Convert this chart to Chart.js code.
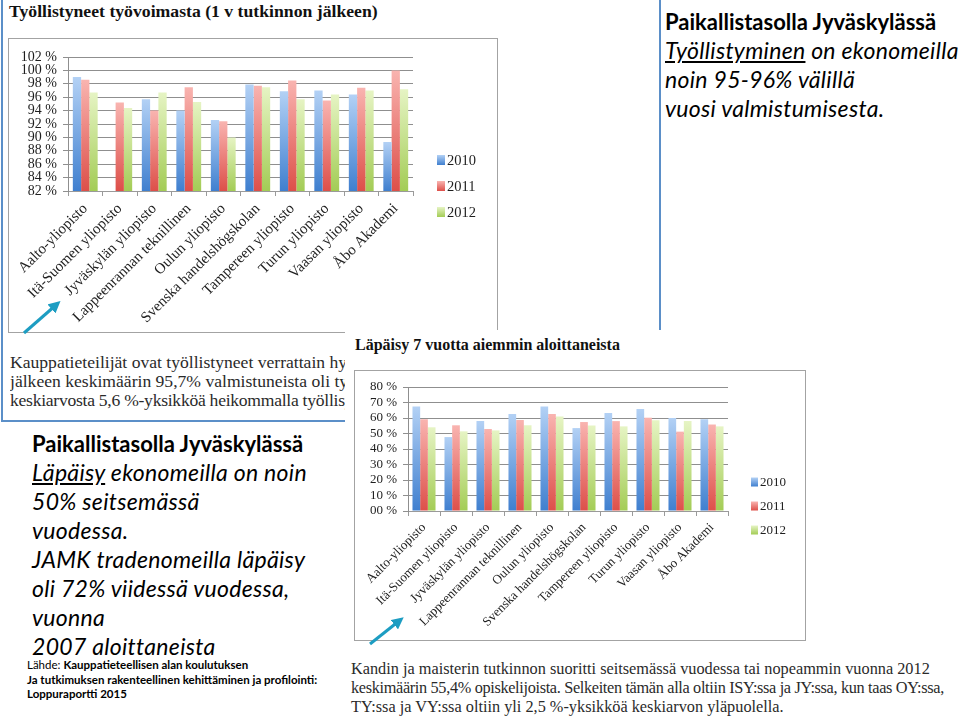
<!DOCTYPE html>
<html lang="fi">
<head>
<meta charset="UTF-8">
<title>Kauppatieteilijät – työllistyminen ja läpäisy</title>
<style>
  body { margin: 0; width: 960px; height: 718px; position: relative; overflow: hidden; background: #fff; font-family: Lato, sans-serif; color: #000; }
  .abs { position: absolute; }
  #frame1 { left: 1px; top: -10px; width: 660px; height: 432px; border: 2px solid #5b8fc8; box-sizing: border-box; }
  .ttl { font-family: "Liberation Serif", serif; font-weight: bold; font-size: 16px; line-height: 16px; color: #111; white-space: nowrap; }
  .box { border: 1px solid #a3a3a3; box-sizing: border-box; }
  .serif { font-family: "Liberation Serif", serif; font-size: 16.3px; line-height: 19px; color: #2a2a2a; white-space: nowrap; }
  #txt1 { left: 10px; top: 353px; width: 335px; overflow: hidden; font-size: 17.6px; }
  #panel2 { left: 345px; top: 330px; width: 615px; height: 388px; background: #fff; }
  .note { font-size: 23px; line-height: 29px; white-space: nowrap; }
  .note .h { font-weight: bold; font-size: 22px; }
  .note .i { font-style: italic; letter-spacing: 0.3px; }
  #src { left: 27px; top: 658px; font-size: 11.5px; line-height: 14.5px; white-space: nowrap; }
  #arrows { left: 0; top: 0; pointer-events: none; }
</style>
</head>
<body>
  <div id="frame1" class="abs"></div>
  <div class="abs ttl" style="left:9px; top:3px; font-size:17.7px;">Työllistyneet työvoimasta (1 v tutkinnon jälkeen)</div>
  <div class="abs box" style="left:8px; top:38px; width:490px; height:295px;"></div>
  <canvas id="tyoChart" class="abs" width="490" height="295" style="left:8px; top:38px;"></canvas>
  <div id="txt1" class="abs serif">
    <div>Kauppatieteilijät ovat työllistyneet verrattain hyv</div>
    <div>jälkeen keskimäärin 95,7% valmistuneista oli työl</div>
    <div style="letter-spacing:-0.27px;">keskiarvosta 5,6 %-yksikköä heikommalla työllisy</div>
  </div>

  <div id="noteTop" class="abs note" style="left:665px; top:7px;">
    <div class="h">Paikallistasolla Jyväskylässä</div>
    <div class="i"><u>Työllistyminen</u> on ekonomeilla</div>
    <div class="i">noin 95-96% välillä</div>
    <div class="i">vuosi valmistumisesta.</div>
  </div>

  <div id="noteLeft" class="abs note" style="left:32px; top:429px;">
    <div class="h">Paikallistasolla Jyväskylässä</div>
    <div class="i"><u>Läpäisy</u> ekonomeilla on noin</div>
    <div class="i">50% seitsemässä</div>
    <div class="i">vuodessa.</div>
    <div class="i">JAMK tradenomeilla läpäisy</div>
    <div class="i">oli 72% viidessä vuodessa,</div>
    <div class="i">vuonna</div>
    <div class="i">2007 aloittaneista</div>
  </div>
  <div id="src" class="abs">Lähde: <b>Kauppatieteellisen alan koulutuksen</b><br><b>Ja tutkimuksen rakenteellinen kehittäminen ja profilointi:</b><br><b>Loppuraportti 2015</b></div>

  <div id="panel2" class="abs"></div>
  <div class="abs ttl" style="left:355px; top:337px;">Läpäisy 7 vuotta aiemmin aloittaneista</div>
  <div class="abs box" style="left:354px; top:370px; width:452px; height:271px;"></div>
  <canvas id="lapChart" class="abs" width="452" height="271" style="left:354px; top:370px;"></canvas>
  <div class="abs serif" style="left:351px; top:659px;">
    <div>Kandin ja maisterin tutkinnon suoritti seitsemässä vuodessa tai nopeammin vuonna 2012</div>
    <div style="letter-spacing:-0.34px;">keskimäärin 55,4% opiskelijoista. Selkeiten tämän alla oltiin ISY:ssa ja JY:ssa, kun taas OY:ssa,</div>
    <div>TY:ssa ja VY:ssa oltiin yli 2,5 %-yksikköä keskiarvon yläpuolella.</div>
  </div>

  <svg id="arrows" class="abs" width="960" height="718">
    <defs>
      <marker id="head" markerWidth="4" markerHeight="4" refX="2" refY="2" orient="auto">
        <path d="M0,0 L4,2 L0,4 z" fill="#1d9dc2"/>
      </marker>
    </defs>
    <line x1="24" y1="333" x2="56" y2="305" stroke="#1d9dc2" stroke-width="3" marker-end="url(#head)"/>
    <line x1="370" y1="644" x2="399" y2="621" stroke="#1d9dc2" stroke-width="3" marker-end="url(#head)"/>
  </svg>

<script src="https://cdn.jsdelivr.net/npm/chart.js"></script>
<script>
  const yliopistot = ['Aalto-yliopisto', 'Itä-Suomen yliopisto', 'Jyväskylän yliopisto', 'Lappeenrannan teknillinen',
    'Oulun yliopisto', 'Svenska handelshögskolan', 'Tampereen yliopisto', 'Turun yliopisto', 'Vaasan yliopisto', 'Åbo Akademi'];
  const vuodet = ['2010', '2011', '2012'];

  // Työllistyneet työvoimasta (%)
  const tyo2010 = [99.0, null, 95.7, 94.0, 92.6, 97.9, 96.9, 97.0, 96.4, 89.3];
  const tyo2011 = [98.6, 95.2, 94.0, 97.5, 92.4, 97.7, 98.5, 95.5, 97.4, 100.0];
  const tyo2012 = [96.7, 94.4, 96.7, 95.3, 90.0, 97.5, 95.7, 96.4, 97.0, 97.2];
  const tyoTicks = ['82 %', '84 %', '86 %', '88 %', '90 %', '92 %', '94 %', '96 %', '98 %', '100 %', '102 %'];

  // Läpäisy 7 vuotta aiemmin aloittaneista (%)
  const lap2010 = [67.5, 47.7, 58.1, 62.6, 67.5, 53.5, 63.2, 65.8, 60.0, 59.2];
  const lap2011 = [59.2, 55.3, 52.9, 58.7, 62.6, 57.4, 58.0, 60.2, 51.2, 55.8];
  const lap2012 = [54.0, 51.4, 52.0, 55.3, 61.0, 55.2, 54.6, 58.6, 58.0, 54.6];
  const lapTicks = ['00 %', '10 %', '20 %', '30 %', '40 %', '50 %', '60 %', '70 %', '80 %'];

  const varit = [
    { light: '#b3d1f5', dark: '#3f7fcf' },
    { light: '#f9b4b0', dark: '#dd4f49' },
    { light: '#e6f4c4', dark: '#a3cc55' }
  ];

  Chart.defaults.font.family = '"Liberation Serif", serif';
  Chart.defaults.color = '#1e1e1e';
  Chart.defaults.animation = false;

  // pylvään liukuväri ylhäältä vaaleasta alas tummaan
  function liuku(light, dark) {
    return function (c) {
      const chart = c.chart;
      const area = chart.chartArea;
      if (!area || c.type !== 'data' || c.raw == null) return dark;
      const top = Math.max(chart.scales.y.getPixelForValue(c.raw), area.top);
      const g = chart.ctx.createLinearGradient(0, top, 0, area.bottom);
      g.addColorStop(0, light);
      g.addColorStop(1, dark);
      return g;
    };
  }

  // selite oikealle, Excel-tyyliin
  const sivuSelite = {
    id: 'sivuSelite',
    afterDraw(chart, args, o) {
      const c = chart.ctx;
      c.save();
      c.font = o.fontSize + 'px "Liberation Serif", serif';
      c.textBaseline = 'middle';
      chart.data.datasets.forEach((ds, i) => {
        const y = o.y + i * o.gap;
        const g = c.createLinearGradient(0, y - o.h / 2, 0, y + o.h / 2);
        g.addColorStop(0, varit[i].light);
        g.addColorStop(1, varit[i].dark);
        c.fillStyle = g;
        c.fillRect(o.x, y - o.h / 2, o.w, o.h);
        c.fillStyle = '#1e1e1e';
        c.fillText(ds.label, o.x + o.w + 2, y + 1);
      });
      c.restore();
    }
  };

  function teeKaavio(id, sarjat, min, max, step, ticks, asetus) {
    new Chart(document.getElementById(id), {
      type: 'bar',
      data: {
        labels: yliopistot,
        datasets: sarjat.map((d, i) => ({
          label: vuodet[i],
          data: d,
          backgroundColor: liuku(varit[i].light, varit[i].dark),
          borderWidth: 0,
          categoryPercentage: 0.72,
          barPercentage: 1.0
        }))
      },
      plugins: [sivuSelite],
      options: {
        responsive: false,
        layout: { padding: { top: asetus.top, right: asetus.right, left: 0, bottom: 0 } },
        plugins: {
          legend: { display: false },
          tooltip: { enabled: false },
          sivuSelite: asetus.selite
        },
        scales: {
          x: {
            grid: { drawOnChartArea: false, offset: true, tickLength: 5, color: '#9a9a9a' },
            border: { color: '#9a9a9a' },
            ticks: { autoSkip: false, minRotation: 45, maxRotation: 45, padding: 4, font: { size: asetus.xFont } },
            afterFit: s => { s.height = asetus.xh; }
          },
          y: {
            min: min, max: max,
            grid: { color: '#8f8f8f', tickLength: 5 },
            border: { color: '#8f8f8f' },
            ticks: { autoSkip: false, stepSize: step, padding: 6, font: { size: asetus.yFont }, callback: (v, i) => ticks[i] },
            afterFit: s => { s.width = asetus.yw; }
          }
        }
      }
    });
  }

  teeKaavio('tyoChart', [tyo2010, tyo2011, tyo2012], 82, 102, 2, tyoTicks, {
    top: 19, right: 85, xh: 142, yw: 60, xFont: 15, yFont: 14,
    selite: { x: 429, y: 122, gap: 26, w: 8, h: 10, fontSize: 14.5 }
  });

  teeKaavio('lapChart', [lap2010, lap2011, lap2012], 0, 80, 10, lapTicks, {
    top: 17, right: 78, xh: 130, yw: 54, xFont: 13, yFont: 13,
    selite: { x: 397, y: 112, gap: 24, w: 7, h: 9, fontSize: 13 }
  });
</script>
</body>
</html>
